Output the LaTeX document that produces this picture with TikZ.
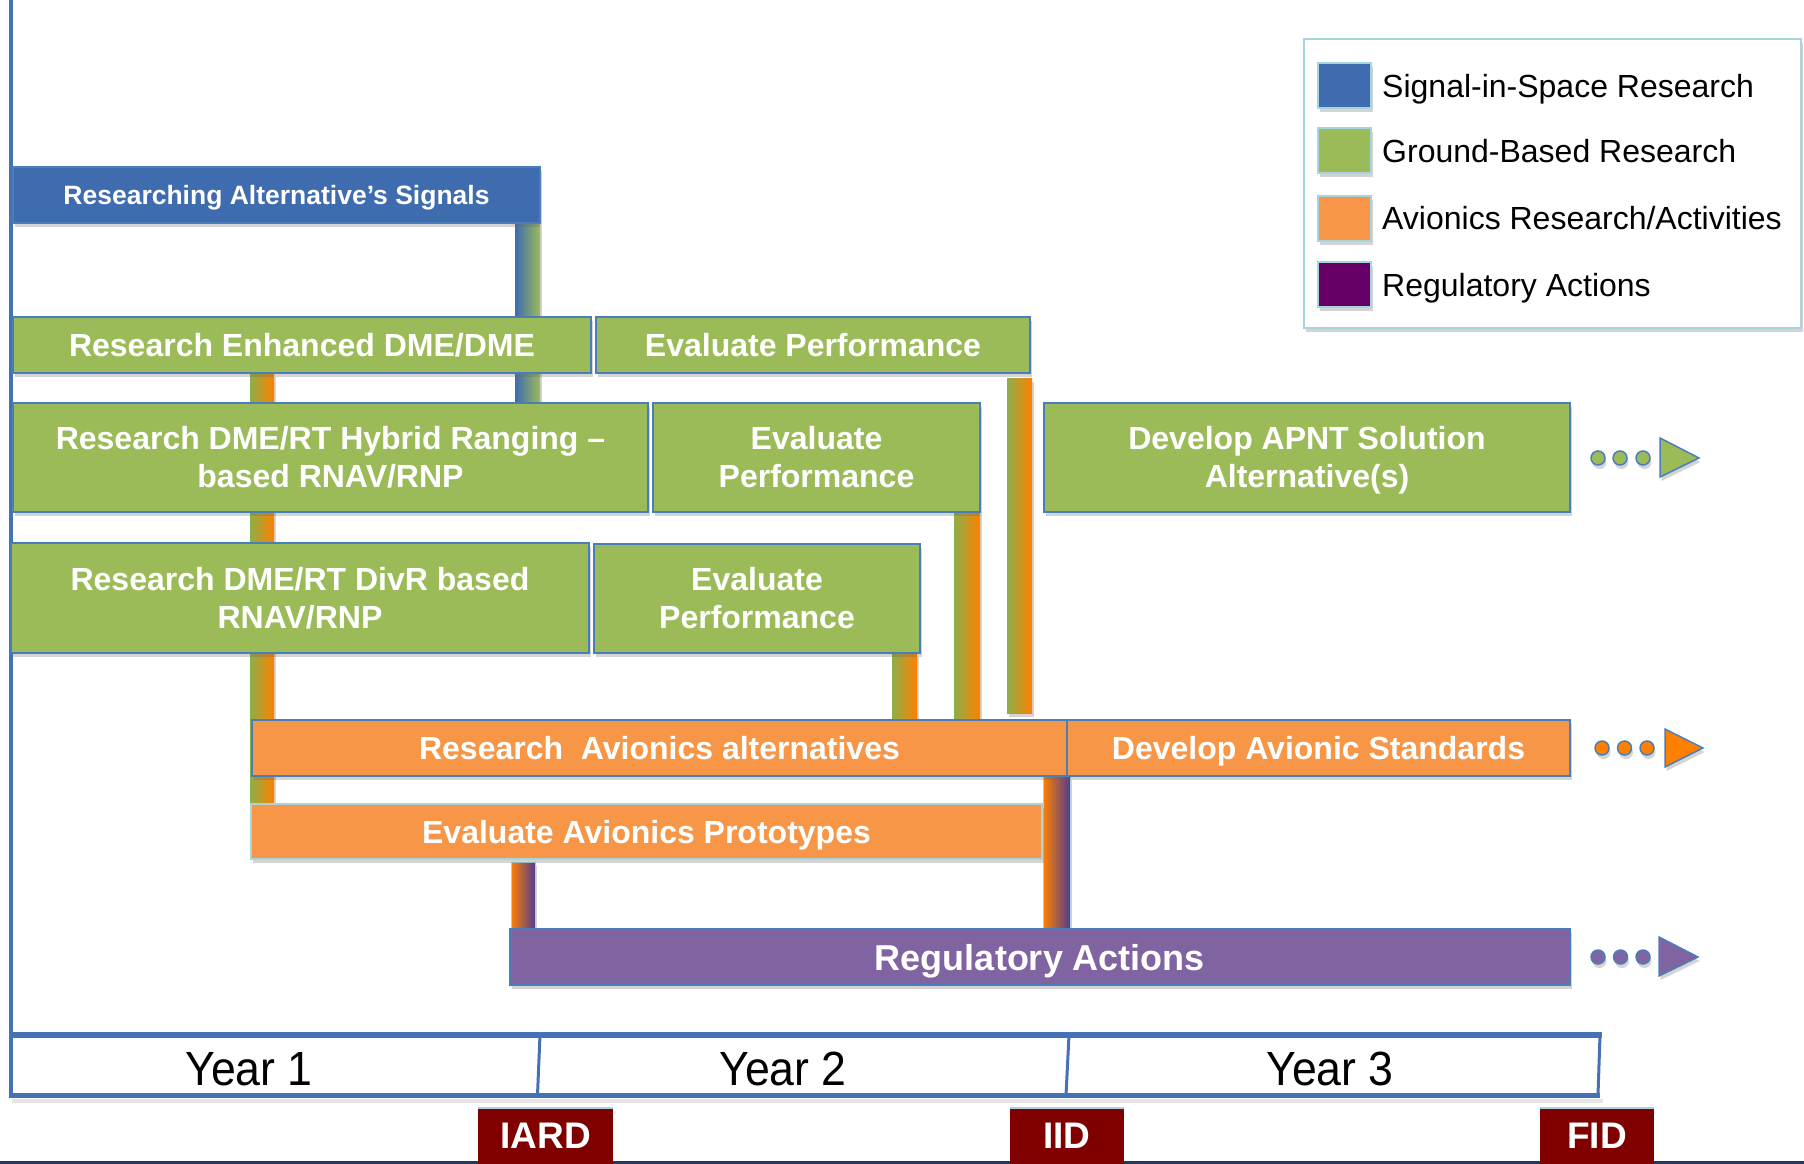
\documentclass[tikz,border=0pt]{standalone}
\usepackage{fontspec}
\setmainfont{Liberation Sans}
\newfontfamily\yearfont[FakeStretch=0.93]{Liberation Sans}
\usetikzlibrary{calc,shadows,backgrounds}
\definecolor{sigblue}{HTML}{3F6BAF}
\definecolor{grn}{HTML}{9BBB59}
\definecolor{barGreen}{HTML}{8DAF48}
\definecolor{org}{HTML}{F79646}
\definecolor{brightorg}{HTML}{FF8000}
\definecolor{purp}{HTML}{8064A2}
\definecolor{barPurp}{HTML}{553B8F}
\definecolor{legpurp}{HTML}{660066}
\definecolor{bord}{HTML}{4A7EBB}
\definecolor{lcyan}{HTML}{A8D5DD}
\definecolor{dred}{HTML}{800000}
\definecolor{axisblue}{HTML}{4472B4}
\definecolor{navy}{HTML}{203864}
\begin{document}
\begin{tikzpicture}[x=1pt,y=-1pt,
  shad/.style={drop shadow={shadow xshift=1.5pt,shadow yshift=-4pt,opacity=0.28,fill=black!60}},
  bx/.style={draw=bord,line width=2pt,inner sep=0pt,outer sep=0pt,anchor=north west,
    text=white,align=center,font=\bfseries\fontsize{32}{38}\selectfont,shad},
  one/.style={text depth=0pt},
  bar/.style={shad},
  swatch/.style={draw=lcyan,line width=1.5pt,minimum width=53pt,minimum height=45pt,
    inner sep=0pt,outer sep=0pt,anchor=north west,shad},
  legtxt/.style={anchor=west,inner sep=0pt,text depth=0pt,font=\fontsize{32}{38}\selectfont},
  yeartxt/.style={anchor=base,inner sep=0pt,font=\yearfont\fontsize{48}{56}\selectfont},
  marker/.style={fill=dred,inner sep=0pt,outer sep=0pt,anchor=north west,minimum height=56pt,
    text=white,text depth=0pt,font=\bfseries\fontsize{37}{44}\selectfont},
  dotline/.style={draw=bord,line width=1.5pt,shad}
]
\useasboundingbox (0,0) rectangle (1804,1164);

% axis
\draw[axisblue,line width=4pt] (11,0) -- (11,1097);

% ---------- boxes ----------
\path
 node[bx,one,fill=sigblue,minimum width=527pt,minimum height=56pt,
      font=\bfseries\fontsize{26.5}{32}\selectfont] (sig) at (13,167) {Researching Alternative’s Signals}
 node[bx,one,fill=grn,minimum width=578pt,minimum height=56pt] (dme) at (13,317) {Research Enhanced DME/DME}
 node[bx,one,fill=grn,minimum width=434pt,minimum height=56pt] (evA) at (596,317) {Evaluate Performance}
 node[bx,fill=grn,minimum width=635pt,minimum height=109pt] (hyb) at (13,403) {Research DME/RT Hybrid Ranging –\\based RNAV/RNP}
 node[bx,fill=grn,minimum width=327pt,minimum height=109pt] (evB) at (653,403) {Evaluate\\Performance}
 node[bx,fill=grn,minimum width=526pt,minimum height=109pt] (apnt) at (1044,403) {Develop APNT Solution\\Alternative\smash{(s)}}
 node[bx,fill=grn,minimum width=578pt,minimum height=110pt] (divr) at (11,543) {Research DME/RT DivR based\\RNAV/RNP}
 node[bx,fill=grn,minimum width=326pt,minimum height=109pt] (evC) at (594,544) {Evaluate\\Performance}
 node[bx,one,fill=org,minimum width=815pt,minimum height=56pt] (avi) at (252,720) {Research\ \ Avionics alternatives}
 node[bx,one,fill=org,minimum width=503pt,minimum height=56pt] (std) at (1067,720) {Develop Avionic Standards}
 node[bx,one,fill=org,draw=lcyan,minimum width=791pt,minimum height=55pt] (proto) at (251,804) {Evaluate Avionics Prototypes}
 node[bx,one,fill=purp,minimum width=1060pt,minimum height=56pt,
      font=\bfseries\fontsize{36}{42}\selectfont] (reg) at (510,929) {Regulatory Actions};

% ---------- connecting bars (behind the boxes) ----------
\begin{scope}[on background layer]
\fill[white] (0,0) rectangle (1804,1164);
\path[bar,left color=sigblue,right color=grn] let \p1=(sig.south),\p2=(hyb.north) in (515,\y1) rectangle (540,\y2);
\path[bar,left color=barGreen,right color=brightorg] let \p1=(dme.south),\p2=(proto.north) in (250,\y1) rectangle (274,\y2);
\path[bar,left color=barGreen,right color=brightorg] let \p1=(evB.south),\p2=(avi.north) in (954,\y1) rectangle (980,\y2);
\path[bar,left color=barGreen,right color=brightorg] let \p1=(evA.south),\p2=(avi.north) in (1007,\y1+-5pt) rectangle (1032,\y2+7pt);
\path[bar,left color=barGreen,right color=brightorg] let \p1=(evC.south),\p2=(avi.north) in (892,\y1) rectangle (917,\y2);
\path[bar,draw=lcyan,line width=1pt,left color=brightorg,right color=barPurp] let \p1=(proto.south),\p2=(reg.north) in (511,\y1+-3pt) rectangle (535,\y2);
\path[bar,draw=lcyan,line width=1pt,left color=brightorg,right color=barPurp] let \p1=(avi.south),\p2=(reg.north) in (1043,\y1) rectangle (1070,\y2);
\end{scope}

% ---------- continuation dots and arrows ----------
\foreach \cx in {1598,1620,1643} \filldraw[dotline,fill=grn] (\cx,458) circle[radius=7pt];
\filldraw[dotline,fill=grn] (1660,438) -- (1699,458) -- (1660,477) -- cycle;
\foreach \cx in {1602,1624.5,1647} \filldraw[dotline,fill=brightorg] (\cx,748) circle[radius=7pt];
\filldraw[dotline,fill=brightorg] (1665,729) -- (1703,748) -- (1665,767) -- cycle;
\foreach \cx in {1598,1620.5,1643} \filldraw[dotline,fill=purp] (\cx,957) circle[radius=7pt];
\filldraw[dotline,fill=purp] (1659,937) -- (1698,957) -- (1659,976) -- cycle;

% ---------- legend ----------
\node[draw=lcyan,line width=2pt,fill=white,minimum width=497pt,minimum height=289pt,
      inner sep=0pt,anchor=north west,shad] (legend) at (1303,38) {};
\node[swatch,fill=sigblue] (swA) at (1318,63) {};
\node[swatch,fill=grn] (swB) at (1318,128) {};
\node[swatch,fill=org] (swC) at (1318,196) {};
\node[swatch,fill=legpurp] (swD) at (1318,262) {};
\node[legtxt] (lgA) at (1382,86) {Signal-in-Space Research};
\node[legtxt] (lgB) at (1382,151) {Ground-Based Research};
\node[legtxt] (lgC) at (1382,218) {Avionics Research/Activities};
\node[legtxt] (lgD) at (1382,285) {Regulatory Actions};

% ---------- time bar ----------
\fill[black,opacity=0.10] (12,1099) rectangle (1603,1103);
\draw[axisblue,line width=3pt] (540,1035) -- (537.5,1095);
\draw[axisblue,line width=3pt] (1069,1035) -- (1066,1095);
\draw[axisblue,line width=3pt] (1600,1035) -- (1598,1095);
\draw[axisblue,line width=6pt] (9,1035) -- (1602,1035);
\draw[axisblue,line width=5pt] (9,1095) -- (1600,1095);
\node[yeartxt] (yr1) at (249,1085) {Year 1};
\node[yeartxt] (yr2) at (783,1085) {Year 2};
\node[yeartxt] (yr3) at (1330,1085) {Year 3};

% ---------- decision markers ----------
\draw[navy,line width=3pt] (0,1162.5) -- (1804,1162.5);
\node[marker,minimum width=135pt] (iard) at (478,1108) {IARD};
\node[marker,minimum width=114pt] (iid) at (1010,1108) {IID};
\node[marker,minimum width=114pt] (fid) at (1540,1108) {FID};
\foreach \m in {iard,iid,fid} \draw[lcyan,line width=2pt] (\m.north west) -- (\m.north east);
\end{tikzpicture}
\end{document}
